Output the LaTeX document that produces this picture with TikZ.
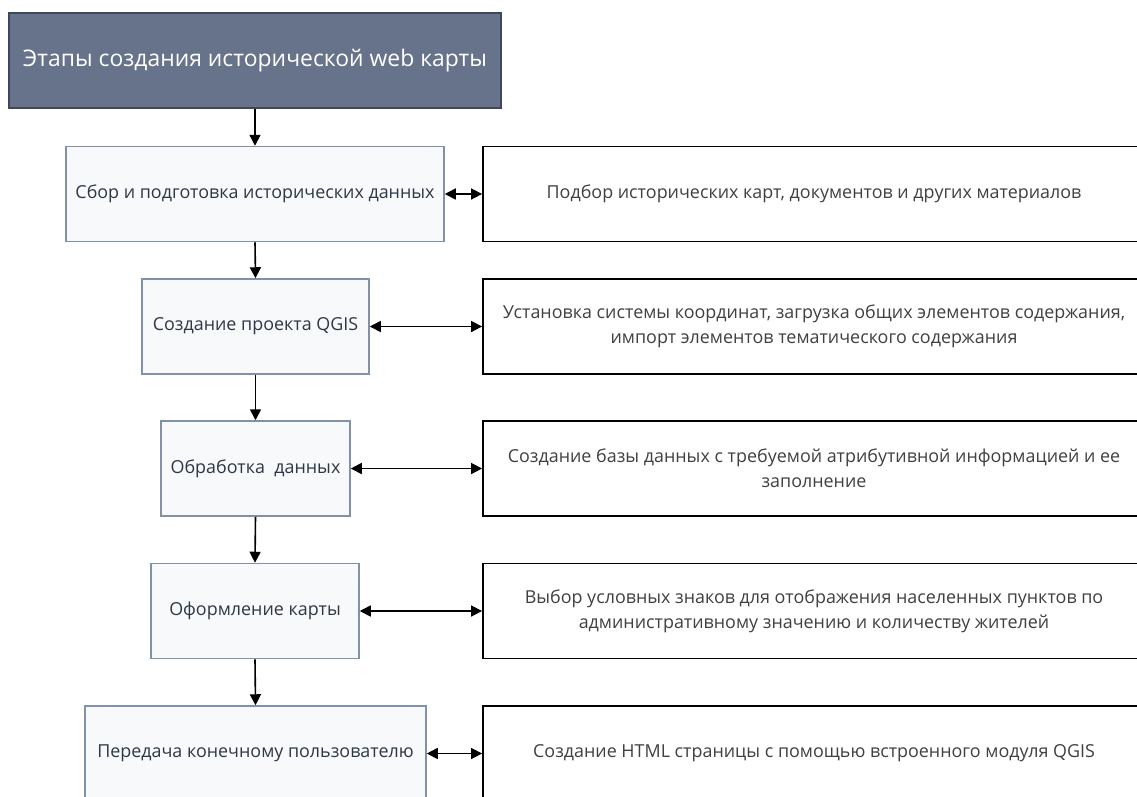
\documentclass[tikz,border=0pt]{standalone}
\usepackage{fontspec}
\setmainfont{Open Sans}
\usetikzlibrary{arrows.meta}
\definecolor{titlefill}{HTML}{66738A}
\definecolor{titledraw}{HTML}{3E4859}
\definecolor{leftfill}{HTML}{F7F9FB}
\definecolor{leftdraw}{HTML}{8391A8}
\definecolor{lefttext}{HTML}{2F3747}
\definecolor{righttext}{HTML}{404040}
\tikzset{
  titlebox/.style={draw=titledraw, fill=titlefill, line width=1.5pt, text=white,
    font=\fontsize{22.9}{27}\selectfont, inner sep=0pt, minimum width=492pt, minimum height=95pt},
  leftbox/.style={draw=leftdraw, fill=leftfill, line width=1.5pt, text=lefttext,
    font=\fontsize{17.9}{22}\selectfont, inner sep=0pt, minimum height=95pt},
  rightbox/.style={draw=black, fill=white, line width=1.8pt, text=righttext,
    font=\fontsize{17.9}{25}\selectfont, align=center, inner sep=0pt,
    minimum width=662pt, minimum height=95pt},
  flow/.style={-{Triangle[length=11pt,width=11pt]}, line width=1.6pt},
  link/.style={{Triangle[length=11pt,width=11pt]}-{Triangle[length=11pt,width=11pt]}, line width=1.6pt}
}
\begin{document}
\begin{tikzpicture}[x=1pt,y=-1pt]
\useasboundingbox (0,0) rectangle (1137,796);
\clip (0,0) rectangle (1137,796);
\fill[white] (0,0) rectangle (1137,796);
\node[titlebox] (t) at (255,60.5) {Этапы создания исторической web карты};
\node[leftbox, minimum width=378pt] (b1) at (255,194) {Сбор и подготовка исторических данных};
\node[leftbox, minimum width=227pt] (b2) at (255.5,326.5) {Создание проекта QGIS};
\node[leftbox, minimum width=189pt] (b3) at (255.5,468.5) {Обработка~~данных};
\node[leftbox, minimum width=208pt] (b4) at (255,611) {Оформление карты};
\node[leftbox, minimum width=341pt] (b5) at (255.5,753.5) {Передача конечному пользователю};
\node[rightbox] (r1) at (814,194) {Подбор исторических карт, документов и других материалов};
\node[rightbox] (r2) at (814,326.5) {Установка системы координат, загрузка общих элементов содержания,\\импорт элементов тематического содержания};
\node[rightbox] (r3) at (814,468.5) {Создание базы данных с требуемой атрибутивной информацией и ее\\заполнение};
\node[rightbox] (r4) at (814,611) {Выбор условных знаков для отображения населенных пунктов по\\административному значению и количеству жителей};
\node[rightbox] (r5) at (814,753.5) {Создание HTML страницы с помощью встроенного модуля QGIS};
\draw[flow] (t.south) -- (b1.north);
\draw[flow] (b1.south) -- (b2.north);
\draw[flow] (b2.south) -- (b3.north);
\draw[flow] (b3.south) -- (b4.north);
\draw[flow] (b4.south) -- (b5.north);
\draw[link] (b1.east) -- (r1.west);
\draw[link] (b2.east) -- (r2.west);
\draw[link] (b3.east) -- (r3.west);
\draw[link] (b4.east) -- (r4.west);
\draw[link] (b5.east) -- (r5.west);
\end{tikzpicture}
\end{document}
